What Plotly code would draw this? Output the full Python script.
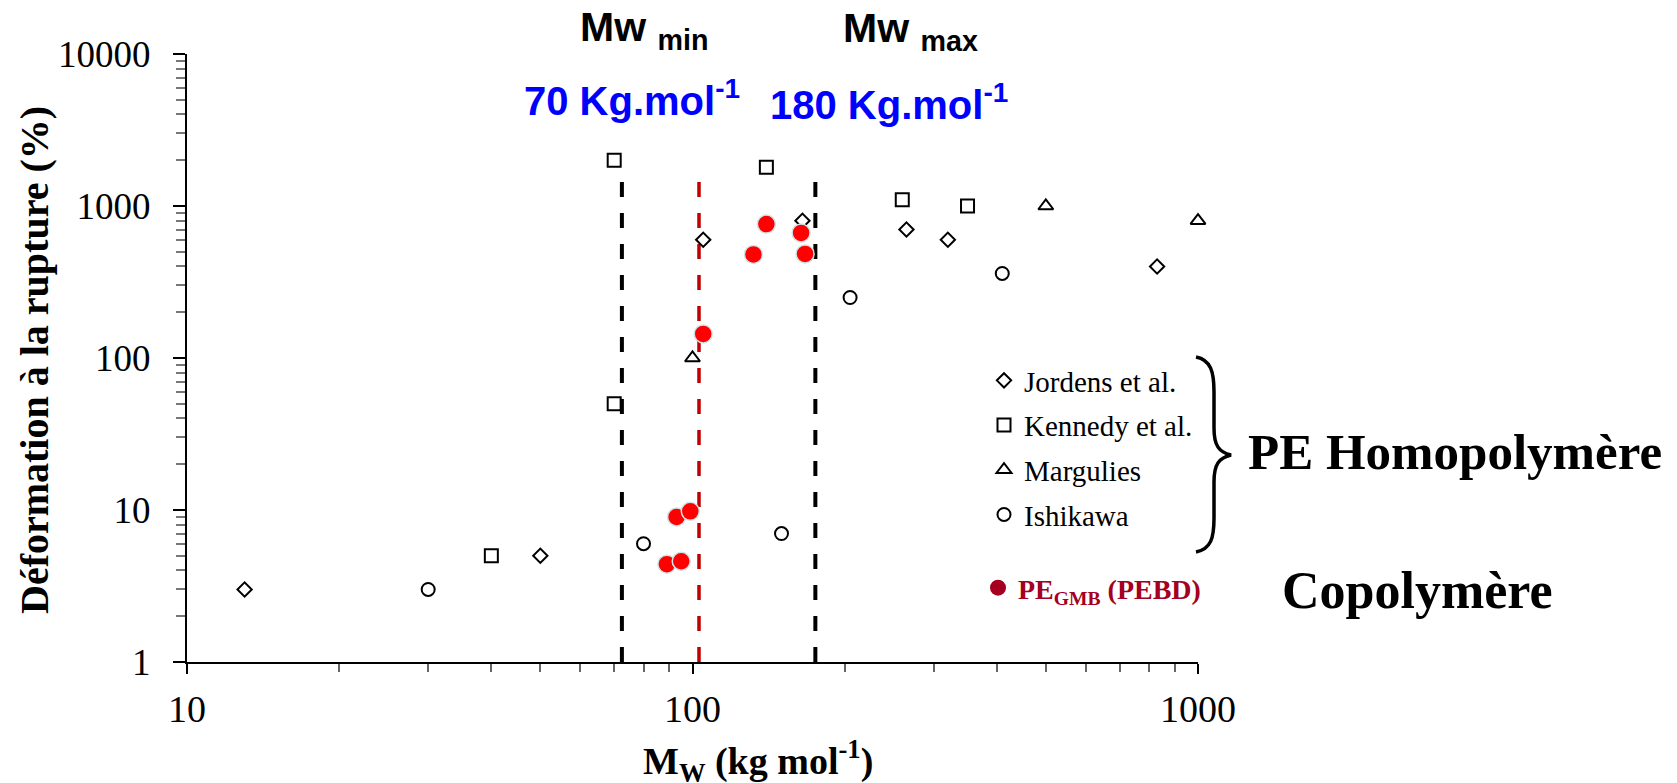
import plotly.graph_objects as go

# ---------------- data ----------------
jordens_mw = [13, 50, 105, 165, 265, 320, 830]
jordens_def = [3, 5, 600, 800, 700, 600, 400]

kennedy_mw = [40, 70, 70, 140, 260, 350]
kennedy_def = [5, 50, 2000, 1800, 1100, 1000]

margulies_mw = [100, 500, 1000]
margulies_def = [100, 1000, 800]

ishikawa_mw = [30, 80, 150, 205, 410]
ishikawa_def = [3, 6, 7, 250, 360]

pegmb_mw = [89, 93, 95, 99, 105, 132, 140, 164, 167]
pegmb_def = [4.4, 9.0, 4.6, 9.8, 144, 480, 760, 665, 484]

mw_min_line = 72.5
mw_red_line = 103
mw_max_line = 175
line_bottom = 1
line_top = 1730

x_tickvals = [10, 100, 1000]
x_ticktext = ["10", "100", "1000"]
y_tickvals = [1, 10, 100, 1000, 10000]
y_ticktext = ["1", "10", "100", "1000", "10000"]

# ---------------- layout geometry (screen pixels) ----------------
W, H = 1677, 783
OFF = 8  # default page body margin
L, R, T, B = 187, 1198, 54, 662


def px_x(px):
    return (px - L) / (R - L)


def px_y(py):
    return (B - py) / (B - T)


SERIF = "Liberation Serif"
SANS = "Liberation Sans"
DARKRED = "#A50021"

fig = go.Figure()

# dashed reference lines
for xv, col, w in [(mw_min_line, "black", 4), (mw_red_line, "#C00000", 3.5), (mw_max_line, "black", 4)]:
    fig.add_trace(go.Scatter(
        x=[xv, xv], y=[line_bottom, line_top], mode="lines",
        line=dict(color=col, width=w, dash="15px,16px"),
        showlegend=False, hoverinfo="skip"))

common_line = dict(color="black", width=2)
series = [
    ("Jordens et al.", jordens_mw, jordens_def, "diamond-open", 11),
    ("Kennedy et al.", kennedy_mw, kennedy_def, "square-open", 13),
    ("Margulies", margulies_mw, margulies_def, "triangle-up-open", 13),
    ("Ishikawa", ishikawa_mw, ishikawa_def, "circle-open", 13),
]
for i, (name, xs, ys, sym, sz) in enumerate(series):
    fig.add_trace(go.Scatter(
        x=xs, y=ys, mode="markers", name=name, legendgroup="g%d" % i,
        marker=dict(symbol=sym, size=sz, color="black", line=common_line),
        cliponaxis=False))

fig.add_trace(go.Scatter(
    x=pegmb_mw, y=pegmb_def, mode="markers", showlegend=False,
    marker=dict(symbol="circle", size=18, color="#FF0000",
                line=dict(color="#cfe3e8", width=1.5)),
    cliponaxis=False))

# legend entry for PE_GMB
fig.add_trace(go.Scatter(
    x=[None], y=[None], mode="markers", name="<b>PE<sub>GMB</sub> (PEBD)</b>",
    legend="legend2", marker=dict(symbol="circle", size=16, color=DARKRED)))

# brace shape (pixel points -> paper)
brace_pts = [
    ("M", [(1196, 357)]),
    ("C", [(1211, 360), (1214, 372), (1214, 392)]),
    ("L", [(1214, 428)]),
    ("C", [(1214, 446), (1219, 452), (1231, 455)]),
    ("C", [(1219, 458), (1214, 464), (1214, 482)]),
    ("L", [(1214, 518)]),
    ("C", [(1214, 538), (1211, 549), (1196, 552)]),
]
path = ""
for cmd, pts in brace_pts:
    path += cmd + " " + " ".join("%.5f,%.5f" % (px_x(a), px_y(b)) for a, b in pts) + " "
fig.add_shape(type="path", path=path.strip(), xref="paper", yref="paper",
              line=dict(color="black", width=3.5))

annots = [
    dict(text="<b>Mw <sub>min</sub></b>", x=px_x(644), y=px_y(30), font=dict(family=SANS, size=41, color="black")),
    dict(text="<b>Mw <sub>max</sub></b>", x=px_x(910), y=px_y(31), font=dict(family=SANS, size=41, color="black")),
    dict(text="<b>70 Kg.mol<sup>-1</sup></b>", x=px_x(632), y=px_y(98), font=dict(family=SANS, size=40, color="#0000FF")),
    dict(text="<b>180 Kg.mol<sup>-1</sup></b>", x=px_x(889), y=px_y(102), font=dict(family=SANS, size=40, color="#0000FF")),
    dict(text="<b>Déformation à la rupture (%)</b>", x=px_x(34), y=px_y(360), textangle=-90,
         font=dict(family=SERIF, size=40, color="black")),
    dict(text="<b>M<sub>W</sub> (kg mol<sup>-1</sup>)</b>", x=px_x(758), y=px_y(761),
         font=dict(family=SERIF, size=38, color="black")),
    dict(text="<b>PE Homopolymère</b>", x=px_x(1455), y=px_y(452), font=dict(family=SERIF, size=51, color="black")),
    dict(text="<b>Copolymère</b>", x=px_x(1417), y=px_y(590), font=dict(family=SERIF, size=52, color="black")),
]
for a in annots:
    fig.add_annotation(xref="paper", yref="paper", showarrow=False,
                       xanchor="center", yanchor="middle", **a)

fig.update_layout(
    width=W, height=H,
    margin=dict(l=L - OFF, r=W - (R - OFF), t=T - OFF, b=H - (B - OFF), autoexpand=False),
    paper_bgcolor="white", plot_bgcolor="white",
    showlegend=True,
    legend=dict(x=px_x(984), y=px_y(355), xanchor="left", yanchor="top",
                font=dict(family=SERIF, size=29, color="black"),
                tracegroupgap=4, bgcolor="rgba(0,0,0,0)", itemclick=False),
    legend2=dict(x=px_x(978), y=px_y(588), xanchor="left", yanchor="middle",
                 font=dict(family=SERIF, size=28, color=DARKRED),
                 bgcolor="rgba(0,0,0,0)"),
)

fig.update_xaxes(
    type="log", range=[1, 3], showgrid=False, zeroline=False, automargin=False,
    showline=True, linecolor="black", linewidth=2,
    tickmode="array", tickvals=x_tickvals, ticktext=x_ticktext,
    ticks="outside", ticklen=10, tickwidth=2, tickcolor="black",
    tickfont=dict(family=SERIF, size=38, color="black"),
    ticklabelstandoff=2,
    minor=dict(ticks="outside", ticklen=8, tickwidth=1.5, tickcolor="#666666", dtick="D1", showgrid=False),
)
fig.update_yaxes(
    type="log", range=[0, 4], showgrid=False, zeroline=False, automargin=False,
    showline=True, linecolor="black", linewidth=2,
    tickmode="array", tickvals=y_tickvals, ticktext=y_ticktext,
    ticks="outside", ticklen=12, tickwidth=2, tickcolor="black",
    tickfont=dict(family=SERIF, size=37, color="black"),
    ticklabelstandoff=15,
    minor=dict(ticks="outside", ticklen=9, tickwidth=1.5, tickcolor="#777777", dtick="D1", showgrid=False),
)

fig.write_html("out.html")
